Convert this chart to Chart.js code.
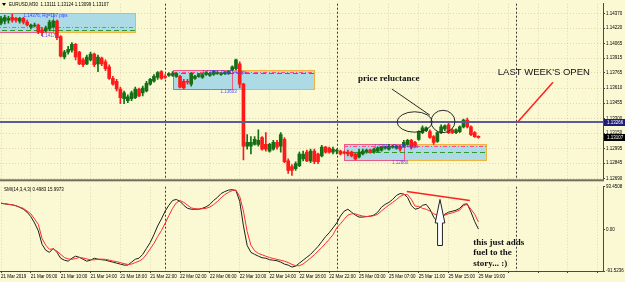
<!DOCTYPE html>
<html>
<head>
<meta charset="utf-8">
<title>EURUSD M30</title>
<script src="https://cdn.jsdelivr.net/npm/chart.js@4.4.1/dist/chart.umd.min.js"></script>
<style>
  html, body { margin: 0; padding: 0; background: #faf9d4; }
  #wrap { position: relative; width: 625px; height: 282px; overflow: hidden; background: #faf9d4; }
  canvas { position: absolute; left: 0; }
  #priceChart { top: 0; }
  #smiChart { top: 183px; }
</style>
</head>
<body>
<div id="wrap">
  <canvas id="priceChart" width="625" height="183"></canvas>
  <canvas id="smiChart" width="625" height="99"></canvas>
</div>
<script>
// EURUSD M30, one entry per bar from 21 Mar 2019 02:00 to 25 Mar 19:00
const timeLabels = ['21 Mar 2019', '21 Mar 06:00', '21 Mar 10:00', '21 Mar 14:00', '21 Mar 18:00',
  '21 Mar 22:00', '22 Mar 02:00', '22 Mar 06:00', '22 Mar 10:00', '22 Mar 14:00', '22 Mar 18:00',
  '22 Mar 22:00', '25 Mar 03:00', '25 Mar 07:00', '25 Mar 11:00', '25 Mar 15:00', '25 Mar 19:00'];
const priceTicks = [1.14370, 1.14220, 1.14065, 1.13915, 1.13765, 1.13610, 1.13455,
  1.13300, 1.13150, 1.12995, 1.12845, 1.12690];

const opens = [
  1.14271,1.14291,1.14301,1.14331,1.14321,1.14291,1.14321,1.14281,1.14232,1.14242,
  1.14252,1.14202,1.14192,1.14212,1.14232,1.14291,1.14133,1.13926,1.13975,1.13995,
  1.14054,1.13975,1.13896,1.13856,1.13896,1.13955,1.13856,1.13916,1.13876,1.13827,
  1.13708,1.13679,1.13600,1.13501,1.13481,1.13501,1.13511,1.13600,1.13560,1.13580,
  1.13649,1.13679,1.13718,1.13777,1.13728,1.13738,1.13738,1.13728,1.13728,1.13679,
  1.13679,1.13649,1.13708,1.13728,1.13718,1.13748,1.13738,1.13748,1.13758,1.13748,
  1.13758,1.13758,1.13797,1.13807,1.13856,1.13649,1.13017,1.13017,1.13036,1.13036,
  1.13106,1.13036,1.12967,1.12987,1.13056,1.13017,1.13086,1.12868,1.12809,1.12789,
  1.12819,1.12888,1.12957,1.12868,1.12967,1.12938,1.12918,1.13007,1.12997,1.12957,
  1.12967,1.12967,1.12957,1.12957,1.12957,1.12938,1.12908,1.12938,1.12957,1.12977,
  1.12957,1.12967,1.12977,1.12997,1.12987,1.13007,1.12997,1.13017,1.13017,1.13036,
  1.13076,1.13056,1.13086,1.13155,1.13175,1.13165,1.13115,1.13066,1.13155,1.13194,
  1.13234,1.13185,1.13155,1.13165,1.13214,1.13283,1.13214,1.13155,1.13111];
const highs = [
  1.14341,1.14350,1.14341,1.14360,1.14331,1.14331,1.14331,1.14301,1.14262,1.14271,
  1.14262,1.14222,1.14242,1.14301,1.14301,1.14301,1.14143,1.13995,1.14034,1.14074,
  1.14064,1.13985,1.13916,1.13945,1.13975,1.13965,1.13945,1.13926,1.13896,1.13847,
  1.13728,1.13698,1.13619,1.13580,1.13540,1.13580,1.13619,1.13610,1.13629,1.13679,
  1.13708,1.13748,1.13777,1.13787,1.13748,1.13768,1.13777,1.13768,1.13738,1.13698,
  1.13698,1.13768,1.13738,1.13758,1.13758,1.13777,1.13768,1.13787,1.13777,1.13768,
  1.13777,1.13787,1.13837,1.13906,1.13876,1.13659,1.13135,1.13115,1.13115,1.13185,
  1.13115,1.13155,1.13046,1.13076,1.13076,1.13155,1.13106,1.12888,1.12829,1.12859,
  1.12957,1.12967,1.12977,1.12987,1.12987,1.12947,1.13027,1.13017,1.13007,1.13007,
  1.12987,1.12977,1.12967,1.12977,1.12967,1.12947,1.12987,1.12987,1.12987,1.12987,
  1.12997,1.13007,1.13017,1.13017,1.13036,1.13027,1.13027,1.13027,1.13076,1.13086,
  1.13086,1.13066,1.13175,1.13224,1.13214,1.13185,1.13125,1.13165,1.13234,1.13234,
  1.13264,1.13194,1.13194,1.13224,1.13293,1.13303,1.13224,1.13165,1.13124];
const lows = [
  1.14252,1.14262,1.14271,1.14281,1.14281,1.14271,1.14262,1.14242,1.14212,1.14232,
  1.14163,1.14143,1.14182,1.14192,1.14222,1.14103,1.13926,1.13906,1.13955,1.13975,
  1.13896,1.13847,1.13827,1.13847,1.13886,1.13827,1.13777,1.13837,1.13787,1.13698,
  1.13639,1.13580,1.13451,1.13451,1.13461,1.13481,1.13501,1.13521,1.13530,1.13570,
  1.13639,1.13669,1.13698,1.13698,1.13708,1.13728,1.13728,1.13718,1.13610,1.13600,
  1.13649,1.13629,1.13698,1.13718,1.13708,1.13738,1.13728,1.13738,1.13748,1.13738,
  1.13748,1.13748,1.13787,1.13797,1.13610,1.12878,1.12987,1.12938,1.13027,1.13017,
  1.12977,1.12967,1.12957,1.12977,1.12987,1.12957,1.12849,1.12740,1.12720,1.12770,
  1.12809,1.12868,1.12859,1.12849,1.12839,1.12839,1.12908,1.12947,1.12947,1.12938,
  1.12938,1.12928,1.12938,1.12918,1.12908,1.12878,1.12898,1.12928,1.12947,1.12947,
  1.12947,1.12957,1.12967,1.12987,1.12977,1.12997,1.12987,1.12967,1.13007,1.13027,
  1.12987,1.13007,1.13076,1.13145,1.13165,1.13096,1.13036,1.13056,1.13145,1.13175,
  1.13145,1.13145,1.13145,1.13155,1.13204,1.13204,1.13125,1.13106,1.13099];
const closes = [
  1.14321,1.14331,1.14321,1.14301,1.14301,1.14321,1.14281,1.14252,1.14252,1.14252,
  1.14182,1.14173,1.14222,1.14281,1.14291,1.14123,1.13935,1.13975,1.14005,1.14054,
  1.13926,1.13856,1.13847,1.13926,1.13955,1.13847,1.13926,1.13856,1.13807,1.13708,
  1.13649,1.13600,1.13511,1.13560,1.13521,1.13560,1.13600,1.13530,1.13610,1.13659,
  1.13698,1.13728,1.13768,1.13708,1.13718,1.13758,1.13758,1.13758,1.13619,1.13610,
  1.13669,1.13758,1.13728,1.13748,1.13748,1.13768,1.13758,1.13777,1.13768,1.13758,
  1.13768,1.13777,1.13827,1.13896,1.13649,1.13017,1.13056,1.13056,1.13086,1.13076,
  1.12987,1.12987,1.13036,1.13056,1.13007,1.13135,1.12859,1.12770,1.12770,1.12839,
  1.12938,1.12938,1.12868,1.12967,1.12859,1.12859,1.13007,1.12957,1.12957,1.12987,
  1.12977,1.12938,1.12947,1.12938,1.12918,1.12888,1.12957,1.12967,1.12977,1.12957,
  1.12987,1.12997,1.13007,1.13007,1.13017,1.13017,1.13017,1.12987,1.13056,1.13076,
  1.13007,1.13027,1.13165,1.13204,1.13204,1.13106,1.13056,1.13155,1.13214,1.13224,
  1.13155,1.13155,1.13185,1.13214,1.13283,1.13214,1.13135,1.13115,1.13107];

// SMI(14,3,4,3): main line and signal line
const smiMain = [
  56.9,55.8,54.7,53.6,51.5,48.3,44,37.5,27.8,13.9,
  -3.3,-33,-46,-50.6,-42,-50.6,-63.5,-67.8,-70,-63.5,
  -59,-61.4,-65.7,-70,-67.8,-63.5,-65.7,-66.8,-67.8,-70,
  -72.1,-74.3,-76.4,-78.6,-78.6,-72.1,-65.7,-63.5,-55,-42,
  -29.1,-12,7.4,22.5,39.7,52.6,63.3,65.5,61.2,52.6,
  46.1,44,44,44,46.1,49.3,54.7,63.3,69.8,78.4,
  82.7,86,87,84.9,61.2,7.4,-35.6,-50.6,-55,-59,
  -62.5,-63.5,-66.8,-67.8,-69,-72.1,-76.4,-78.6,-82.9,-80.7,
  -74.3,-67.8,-61.4,-55,-46.3,-37.7,-27,-16.2,-7.6,3.1,
  13.9,28.9,39.7,44,37.5,31.1,26.8,26.8,27.8,28.9,
  31.1,37.5,48.3,54.7,59,65.5,74.1,78.4,77.3,69.8,
  52.6,44,46.1,52.6,54.7,44,26.8,16,22.5,33.2,
  37.5,39.7,41.8,46.1,54.7,55.8,38,17,0.4983];
const smiSignal = [
  57.5,56.2,54.9,53.8,51.8,48.6,46,40,34,22.5,
  11,-20,-35,-44,-43,-48,-55,-62,-65,-66,
  -64,-62,-63,-65,-67,-67,-65.7,-65.5,-66,-67.5,
  -69.5,-71,-73,-75.5,-77,-76.4,-73,-70,-65,-55,
  -43,-31,-16,-3,13,30,46,58,63,59,
  53,47,45,44.5,45,46,49,54,61,69,
  76,81,85,86,72,40,-5,-35,-47,-53,
  -56,-59,-62,-64,-66,-68,-70,-73,-77,-80,
  -80,-76,-70,-63,-56,-48,-40,-31,-22,-12,
  3,12,22,31,34,34,31,29,28,28.5,
  30,33,40,47,53,59,65,72,76,76,
  66,51,50,46,44,40,34,31,30,31,
  34,36,39,42,52,54.7,44,33,15.9973];
const smiTicks = [93.4508, 0, -91.5236];

const daySeparators = [44, 90, 138];   // bar index of each day's 00:00
const weekOpen = 1.13266;

// session range boxes (bar indexes and prices)
const boxStart = [-2, 46, 92];
const boxSplit = [14, 62, 108];
const boxEnd = [36, 84, 130];
const boxHigh = [1.14376, 1.13797, 1.13044];
const boxLow = [1.14179, 1.13603, 1.12880];
const boxLineA = [1.14232, 1.13777, 1.13017];
const boxLineB = [1.14202, 1.13758, 1.12957];

const UP = '#157015';
const DOWN = '#ff1a1a';
const GRID = 'rgba(190,175,135,0.45)';
const TINY = '4.5px "Liberation Sans", Arial, sans-serif';
const NOTE = 'bold 9px "Liberation Serif", "Times New Roman", serif';

const gridBars = [];
for (let b = 0; b <= 160; b += 8) gridBars.push(b);
const xRange = { min: -0.27, max: 161.4 };

function candleColor(ctx) {
    const i = ctx.dataIndex;
    return closes[i] >= opens[i] ? UP : DOWN;
}

function drawSeparators(ctx, a, x) {
    ctx.save();
    ctx.strokeStyle = '#3a3a3a';
    ctx.lineWidth = 1;
    ctx.setLineDash([2, 2]);
    daySeparators.forEach(b => {
        const px = Math.round(x.getPixelForValue(b)) + 0.5;
        ctx.beginPath();
        ctx.moveTo(px, a.top);
        ctx.lineTo(px, a.bottom);
        ctx.stroke();
    });
    ctx.restore();
}

const priceOverlay = {
    id: 'priceOverlay',
    beforeDatasetsDraw(chart) {
        const { ctx, chartArea: a, scales: { x, y } } = chart;
        ctx.save();
        ctx.beginPath();
        ctx.rect(a.left, a.top, a.width, a.height);
        ctx.clip();

        boxStart.forEach((start, k) => {
            const x0 = Math.round(x.getPixelForValue(start));
            const x1 = Math.round(x.getPixelForValue(boxSplit[k]));
            const x2 = Math.round(x.getPixelForValue(boxEnd[k]));
            const yt = Math.round(y.getPixelForValue(boxHigh[k]));
            const yb = Math.round(y.getPixelForValue(boxLow[k]));
            ctx.fillStyle = '#acdbe6';
            ctx.fillRect(x0, yt, x2 - x0, yb - yt);
            ctx.lineWidth = 1;
            ctx.strokeStyle = '#f2b440';
            ctx.strokeRect(x1 + 0.5, yt + 0.5, x2 - x1, yb - yt);
            ctx.strokeStyle = '#ec5a86';
            ctx.strokeRect(x0 + 0.5, yt + 0.5, x1 - x0, yb - yt);

            const ya = Math.round(y.getPixelForValue(boxLineA[k])) + 0.5;
            ctx.strokeStyle = '#ff4f8a';
            ctx.setLineDash([4, 2, 1, 2]);
            ctx.beginPath(); ctx.moveTo(x0, ya); ctx.lineTo(x2, ya); ctx.stroke();
            const yg = Math.round(y.getPixelForValue(boxLineB[k])) + 0.5;
            ctx.strokeStyle = '#2e9a2e';
            ctx.setLineDash([5, 3]);
            ctx.beginPath(); ctx.moveTo(x0, yg); ctx.lineTo(x2, yg); ctx.stroke();
            ctx.setLineDash([]);
        });
        ctx.restore();
        drawSeparators(ctx, a, x);
    },
    afterDatasetsDraw(chart) {
        const { ctx, chartArea: a, scales: { x, y } } = chart;
        ctx.save();

        // last week's open level
        const yo = Math.round(y.getPixelForValue(weekOpen));
        ctx.fillStyle = '#5a5a9c';
        ctx.fillRect(a.left, yo - 1, a.width, 2);

        // box labels
        ctx.font = TINY;
        ctx.textBaseline = 'middle';
        boxStart.forEach((start, k) => {
            const mid = x.getPixelForValue((start + boxSplit[k]) / 2);
            const pips = Math.round((boxHigh[k] - boxLow[k]) * 1e5);
            ctx.fillStyle = '#3b3bff';
            ctx.textAlign = 'left';
            ctx.fillText(boxHigh[k].toFixed(5) + ', Rg=' + pips + ' pips', mid, y.getPixelForValue(boxHigh[k]) + 3);
            ctx.fillStyle = '#5a4cff';
            ctx.textAlign = 'right';
            ctx.fillText(boxLow[k].toFixed(5), x.getPixelForValue(boxSplit[k]) + 4.5, y.getPixelForValue(boxLow[k]) + 3.5);
        });

        // hand drawn notes
        ctx.strokeStyle = '#2a2a2a';
        ctx.lineWidth = 1;
        [{ bar: 110.9, price: 1.13264, rb: 4.7, rp: 0.00104 },
         { bar: 118.5, price: 1.13269, rb: 3.2, rp: 0.00114 }].forEach(e => {
            const cx = x.getPixelForValue(e.bar), cy = y.getPixelForValue(e.price);
            const rx = x.getPixelForValue(e.bar + e.rb) - cx;
            const ry = cy - y.getPixelForValue(e.price + e.rp);
            ctx.beginPath();
            ctx.ellipse(cx, cy, rx, ry, 0, 0, Math.PI * 2);
            ctx.stroke();
        });
        ctx.beginPath();
        ctx.moveTo(x.getPixelForValue(104.8), y.getPixelForValue(1.13600));
        ctx.lineTo(x.getPixelForValue(115), y.getPixelForValue(1.13333));
        ctx.stroke();

        ctx.strokeStyle = '#ff2020';
        ctx.lineWidth = 1.5;
        ctx.beginPath();
        ctx.moveTo(x.getPixelForValue(138.6), y.getPixelForValue(weekOpen));
        ctx.lineTo(x.getPixelForValue(148), y.getPixelForValue(1.13669));
        ctx.stroke();

        ctx.fillStyle = '#111';
        ctx.textAlign = 'left';
        ctx.font = NOTE;
        ctx.fillText('price reluctance', x.getPixelForValue(95.7), y.getPixelForValue(1.13708));
        ctx.font = '9.5px "Liberation Sans", Arial, sans-serif';
        ctx.fillText("LAST WEEK'S OPEN", x.getPixelForValue(133.2), y.getPixelForValue(1.13768));
        ctx.restore();
    },
    afterDraw(chart) {
        const { ctx, chartArea: a, scales: { y } } = chart;
        ctx.save();
        // separator between the two windows
        ctx.fillStyle = '#6d6d60';
        ctx.fillRect(0, a.bottom, a.right + 1, 2);

        ctx.font = TINY;
        ctx.textBaseline = 'middle';
        ctx.textAlign = 'left';
        const last = closes.length - 1;
        [[weekOpen, '#1d1d7a'], [closes[last], '#000']].forEach(([v, bg]) => {
            const yy = Math.round(y.getPixelForValue(v));
            ctx.fillStyle = bg;
            ctx.fillRect(a.right + 1, yy - 3, 22, 7);
            ctx.fillStyle = '#fff';
            ctx.fillText(v.toFixed(5), a.right + 4, yy + 0.5);
        });

        ctx.fillStyle = '#000';
        ctx.beginPath();
        ctx.moveTo(2, 3); ctx.lineTo(6, 3); ctx.lineTo(4, 6);
        ctx.fill();
        ctx.fillText('EURUSD,M30  ' + [opens[last], highs[last], lows[last], closes[last]]
            .map(v => v.toFixed(5)).join(' '), 9, 5);
        ctx.restore();
    }
};

const smiOverlay = {
    id: 'smiOverlay',
    beforeDatasetsDraw(chart) {
        drawSeparators(chart.ctx, chart.chartArea, chart.scales.x);
    },
    afterDatasetsDraw(chart) {
        const { ctx, chartArea: a, scales: { x, y } } = chart;
        ctx.save();
        // divergence line
        ctx.strokeStyle = '#ff2020';
        ctx.lineWidth = 1.5;
        ctx.beginPath();
        ctx.moveTo(x.getPixelForValue(108.8), y.getPixelForValue(82.7));
        ctx.lineTo(x.getPixelForValue(125.7), y.getPixelForValue(63.3));
        ctx.stroke();

        // arrow
        const bx = x.getPixelForValue(117.7);
        const hw = x.getPixelForValue(117.7 + 1.3) - bx;
        const sw = x.getPixelForValue(117.7 + 0.65) - bx;
        const tip = y.getPixelForValue(65.5), head = y.getPixelForValue(13.9), foot = y.getPixelForValue(-35.6);
        ctx.beginPath();
        ctx.moveTo(bx, tip);
        ctx.lineTo(bx + hw, head);
        ctx.lineTo(bx + sw, head);
        ctx.lineTo(bx + sw, foot);
        ctx.lineTo(bx - sw, foot);
        ctx.lineTo(bx - sw, head);
        ctx.lineTo(bx - hw, head);
        ctx.closePath();
        ctx.fillStyle = '#fff';
        ctx.fill();
        ctx.strokeStyle = '#222';
        ctx.lineWidth = 1;
        ctx.stroke();

        ctx.fillStyle = '#111';
        ctx.font = NOTE;
        ctx.textBaseline = 'middle';
        ctx.textAlign = 'left';
        const tx = x.getPixelForValue(126.6);
        const ty = y.getPixelForValue(-29.1);
        ['this just adds', 'fuel to the', 'story... :)'].forEach((t, n) => ctx.fillText(t, tx, ty + n * 10.5));

        ctx.font = TINY;
        ctx.fillStyle = '#000';
        const last = smiMain.length - 1;
        ctx.fillText('SMI(14,3,4,3) ' + smiMain[last].toFixed(4) + ' ' + smiSignal[last].toFixed(4), 4, a.top + 3);
        ctx.restore();
    }
};

new Chart(document.getElementById('priceChart'), {
    type: 'bar',
    data: {
        datasets: [{
            label: 'wick',
            data: opens.map((o, i) => ({ x: i, y: [lows[i], highs[i]] })),
            backgroundColor: candleColor,
            barThickness: 1,
            grouped: false,
            order: 2
        }, {
            label: 'body',
            data: opens.map((o, i) => ({ x: i, y: [o, closes[i]] })),
            backgroundColor: candleColor,
            barThickness: 3,
            minBarLength: 1,
            grouped: false,
            order: 1
        }]
    },
    options: {
        responsive: false,
        animation: false,
        devicePixelRatio: 1,
        layout: { padding: { left: 0, right: 0, top: 0, bottom: 2 } },
        plugins: { legend: { display: false }, tooltip: { enabled: false } },
        scales: {
            x: {
                type: 'linear', min: xRange.min, max: xRange.max, offset: false,
                afterBuildTicks: s => { s.ticks = gridBars.map(v => ({ value: v })); },
                afterFit: s => { s.height = 0; },
                ticks: { display: false },
                grid: { color: GRID, drawTicks: false, offset: false },
                border: { display: false, dash: [1, 2] }
            },
            y: {
                position: 'right', min: 1.12680, max: 1.14469,
                afterBuildTicks: s => { s.ticks = priceTicks.map(v => ({ value: v })); },
                afterFit: s => { s.width = 22; },
                ticks: { font: { size: 4.5, family: '"Liberation Sans", Arial, sans-serif' }, color: '#000',
                         padding: 1, autoSkip: false, callback: v => v.toFixed(5) },
                grid: { color: GRID, tickColor: '#444', tickLength: 2 },
                border: { display: true, color: '#4a4a44', width: 1, dash: [1, 2] }
            }
        }
    },
    plugins: [priceOverlay]
});

new Chart(document.getElementById('smiChart'), {
    type: 'line',
    data: {
        datasets: [{
            label: 'signal',
            data: smiSignal.map((v, i) => ({ x: i, y: v })),
            borderColor: '#ff2a2a', borderWidth: 1, pointRadius: 0, tension: 0
        }, {
            label: 'smi',
            data: smiMain.map((v, i) => ({ x: i, y: v })),
            borderColor: '#1e1e1e', borderWidth: 1, pointRadius: 0, tension: 0
        }]
    },
    options: {
        responsive: false,
        animation: false,
        devicePixelRatio: 1,
        layout: { padding: { left: 0, right: 0, top: 2, bottom: 0 } },
        plugins: { legend: { display: false }, tooltip: { enabled: false } },
        scales: {
            x: {
                type: 'linear', min: xRange.min, max: xRange.max, offset: false,
                afterBuildTicks: s => { s.ticks = gridBars.map(v => ({ value: v })); },
                afterFit: s => { s.height = 11; },
                ticks: { font: { size: 4.5, family: '"Liberation Sans", Arial, sans-serif' }, color: '#000',
                         align: 'start', padding: 1, autoSkip: false, maxRotation: 0, minRotation: 0,
                         callback: v => timeLabels[v / 8] || '' },
                grid: { color: GRID, tickColor: '#444', tickLength: 2, offset: false },
                border: { display: true, color: '#4a4a44', width: 1, dash: [1, 2] }
            },
            y: {
                position: 'right', min: -91.5236, max: 93.4508,
                afterBuildTicks: s => { s.ticks = smiTicks.map(v => ({ value: v })); },
                afterFit: s => { s.width = 22; },
                ticks: { font: { size: 4.5, family: '"Liberation Sans", Arial, sans-serif' }, color: '#000',
                         padding: 1, autoSkip: false, callback: v => v === 0 ? '0.00' : v.toFixed(4) },
                grid: { drawOnChartArea: false, tickColor: '#444', tickLength: 2 },
                border: { display: true, color: '#4a4a44', width: 1 }
            }
        }
    },
    plugins: [smiOverlay]
});
</script>
</body>
</html>
